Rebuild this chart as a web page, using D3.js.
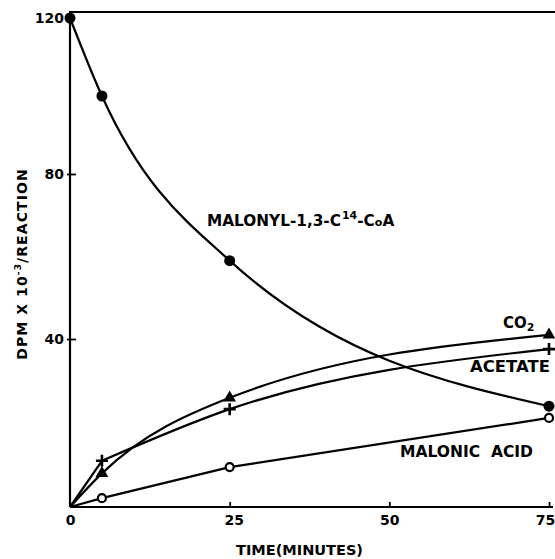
<!DOCTYPE html>
<html><head><meta charset="utf-8">
<script src="https://cdn.jsdelivr.net/npm/d3@7"></script>
<style>body{margin:0;background:#fff}svg{display:block}text{font-family:"DejaVu Sans",sans-serif;font-weight:bold;fill:#000}</style>
</head><body>
<script>
const times = [0, 5, 25, 75];
const malonylCoA = [120, 100, 59, 24];
const co2 = [0, 8, 26, 41];
const acetate = [0, 11, 23.3, 37.6];
const malonicAcid = [0, 2.1, 9.5, 21.2];
const xTicks = [0, 25, 50, 75];
const yTicks = [40, 80, 120];

const W = 555, H = 559;
const svg = d3.select("body").append("svg").attr("width", W).attr("height", H);
const x = d3.scaleLinear().domain([0, 75]).range([70, 549]);
const y = d3.scaleLinear().domain([0, 40, 80, 120]).range([507, 339, 174, 18]);

// frame: left axis line and top line
svg.append("path").attr("d", `M${x(0)},${y(0)}V12H555`).attr("fill","none").attr("stroke","#000").attr("stroke-width",2.2);

// x axis
const xa = svg.append("g").attr("transform", `translate(0,${y(0)})`)
  .call(d3.axisBottom(x).tickValues(xTicks).tickSize(-5).tickPadding(10).tickFormat(d3.format("d")));
xa.select(".domain").attr("d", `M${x(0)},0H553`).attr("stroke-width",2.2);
xa.selectAll(".tick line").attr("stroke-width",1.8);
xa.selectAll(".tick text").attr("font-size",14).attr("font-family","DejaVu Sans").attr("font-weight","bold").attr("dy","0.55em");
xa.selectAll(".tick").filter(d=>d===0).select("line").remove();
xa.selectAll(".tick").filter(d=>d===75).select("text").attr("dx",-4);
xa.selectAll(".tick").filter(d=>d===25).select("text").attr("dx",4);

// y axis
const ya = svg.append("g").attr("transform", `translate(${x(0)},0)`)
  .call(d3.axisLeft(y).tickValues(yTicks).tickSize(-6).tickPadding(8));
ya.select(".domain").remove();
ya.selectAll(".tick line").attr("x1",-3).attr("stroke-width",1.8);
ya.selectAll(".tick text").attr("font-size",14).attr("font-family","DejaVu Sans").attr("font-weight","bold").attr("x",-6);
ya.selectAll(".tick").filter(d=>d===120).select("line").remove();

const pts = arr => times.map((t,i)=>[t, arr[i]]);
const lineMono = d3.line().x(d=>x(d[0])).y(d=>y(d[1])).curve(d3.curveMonotoneX);
const lineLin = d3.line().x(d=>x(d[0])).y(d=>y(d[1]));

function curve(d){
  svg.append("path").attr("d", d).attr("fill","none").attr("stroke","#000").attr("stroke-width",2.2);
}
curve(lineMono(pts(malonylCoA)));
curve(lineMono(pts(co2)));
// acetate: straight rise to first point, then smooth curve
curve(lineLin(pts(acetate).slice(0,2)));
curve(lineMono(pts(acetate).slice(1)));
curve(lineLin(pts(malonicAcid)));

// markers
svg.append("g").selectAll("circle").data(pts(malonylCoA)).join("circle")
  .attr("cx",d=>x(d[0])).attr("cy",d=>y(d[1])).attr("r",5.5).attr("fill","#000");
svg.append("g").selectAll("circle").data(pts(malonicAcid).slice(1)).join("circle")
  .attr("cx",d=>x(d[0])).attr("cy",d=>y(d[1])).attr("r",4).attr("fill","#fff").attr("stroke","#000").attr("stroke-width",2.2);
svg.append("g").selectAll("path").data(pts(co2).slice(1)).join("path")
  .attr("transform",d=>`translate(${x(d[0])},${y(d[1])})`)
  .attr("d", d3.symbol(d3.symbolTriangle, 70)).attr("fill","#000");
svg.append("g").selectAll("path").data(pts(acetate).slice(1)).join("path")
  .attr("transform",d=>`translate(${x(d[0])},${y(d[1])})`)
  .attr("d","M-6,0H6M0,-6V6").attr("stroke","#000").attr("stroke-width",2.6).attr("fill","none");

// labels
const t1 = svg.append("text").attr("x",207).attr("y",226).attr("font-size",15.3);
t1.append("tspan").text("MALONYL-1,3-C");
t1.append("tspan").attr("font-size",11).attr("dy",-7).attr("dx",1).text("14");
t1.append("tspan").attr("dy",7).text("-C");
t1.append("tspan").attr("font-size",11).text("o");
t1.append("tspan").text("A");

const tc = svg.append("text").attr("x",503).attr("y",328).attr("font-size",15);
tc.append("tspan").text("CO");
tc.append("tspan").attr("font-size",11).attr("dy",3).text("2");

svg.append("text").attr("x",470).attr("y",372).attr("font-size",15).attr("textLength",80).attr("lengthAdjust","spacingAndGlyphs").text("ACETATE");
svg.append("text").attr("x",400).attr("y",457).attr("font-size",15).attr("textLength",133).attr("lengthAdjust","spacingAndGlyphs").attr("xml:space","preserve").text("MALONIC  ACID");
svg.append("text").attr("x",236).attr("y",555).attr("font-size",14.5).attr("textLength",127).attr("lengthAdjust","spacingAndGlyphs").text("TIME(MINUTES)");

const yl = svg.append("text").attr("transform","translate(27,264) rotate(-90)").attr("text-anchor","middle").attr("font-size",14).attr("letter-spacing",1.1);
yl.append("tspan").text("DPM X 10");
yl.append("tspan").attr("font-size",9).attr("dy",-6).text("-3");
yl.append("tspan").attr("dy",6).text("/REACTION");
</script>
</body></html>
